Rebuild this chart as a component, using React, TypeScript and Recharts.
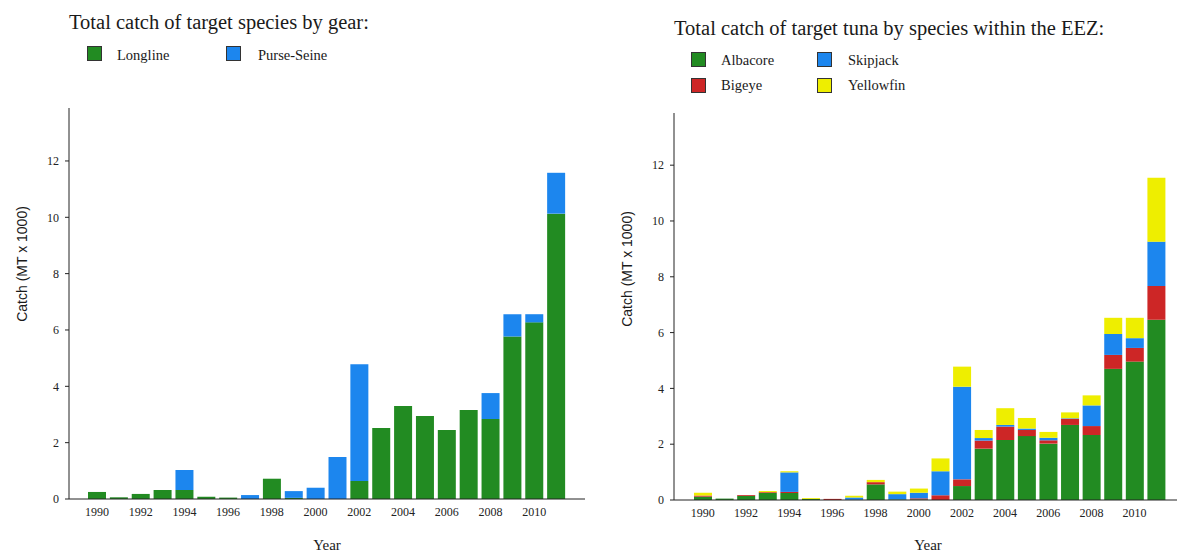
import React from "react";
import { BarChart, Bar, XAxis, YAxis } from "recharts";

const years = [1990, 1991, 1992, 1993, 1994, 1995, 1996, 1997, 1998, 1999, 2000, 2001, 2002, 2003, 2004, 2005, 2006, 2007, 2008, 2009, 2010, 2011];

// Left chart: by gear
const longline = [0.25, 0.06, 0.18, 0.32, 0.32, 0.08, 0.05, 0, 0.72, 0.04, 0, 0, 0.64, 2.52, 3.30, 2.95, 2.45, 3.16, 2.84, 5.77, 6.27, 10.13];
const purseSeine = [0, 0, 0, 0, 0.71, 0, 0, 0.14, 0, 0.24, 0.40, 1.49, 4.14, 0, 0, 0, 0, 0, 0.92, 0.79, 0.29, 1.45];

// Right chart: by species
const albacore = [0.12, 0.05, 0.15, 0.25, 0.25, 0.04, 0, 0.01, 0.56, 0.02, 0.02, 0, 0.50, 1.84, 2.15, 2.29, 2.02, 2.69, 2.33, 4.70, 4.96, 6.46];
const bigeye = [0.04, 0, 0.03, 0.03, 0.04, 0, 0.04, 0, 0.08, 0, 0.04, 0.17, 0.24, 0.29, 0.48, 0.22, 0.12, 0.22, 0.32, 0.50, 0.49, 1.21];
const skipjack = [0, 0, 0, 0, 0.70, 0, 0, 0.08, 0, 0.19, 0.20, 0.86, 3.32, 0.09, 0.06, 0.05, 0.09, 0.02, 0.74, 0.75, 0.35, 1.59];
const yellowfin = [0.10, 0, 0, 0.04, 0.04, 0.03, 0, 0.06, 0.08, 0.09, 0.15, 0.46, 0.72, 0.29, 0.60, 0.38, 0.21, 0.21, 0.36, 0.58, 0.73, 2.29];

const yTicks = [0, 2, 4, 6, 8, 10, 12];

const GREEN = "#228B22";
const BLUE = "#1C86EE";
const RED = "#CD2626";
const YELLOW = "#EEEE00";

const gearData = years.map((y, i) => ({ year: y, longline: longline[i], purse: purseSeine[i] }));
const speciesData = years.map((y, i) => ({
  year: y,
  albacore: albacore[i],
  bigeye: bigeye[i],
  skipjack: skipjack[i],
  yellowfin: yellowfin[i],
}));

const SERIF = "'Liberation Serif', 'Times New Roman', serif";
const SANS = "'Liberation Sans', Arial, sans-serif";

const tickStyle = { fontFamily: SERIF, fontSize: 12, fill: "#222" };

function Text({ x, y, size, children, family = SERIF }: any) {
  return (
    <div
      style={{
        position: "absolute",
        left: x,
        top: y - size / 2,
        fontSize: size,
        lineHeight: `${size}px`,
        fontFamily: family,
        color: "#1a1a1a",
        whiteSpace: "nowrap",
      }}
    >
      {children}
    </div>
  );
}

function Key({ x, y, color }: any) {
  return (
    <div
      style={{
        position: "absolute",
        left: x,
        top: y,
        width: 13,
        height: 13,
        background: color,
        border: "1px solid #333",
      }}
    />
  );
}

function CenterText({ cx, cy, size, children, family = SERIF, rotate = 0 }: any) {
  return (
    <div
      style={{
        position: "absolute",
        left: cx,
        top: cy,
        transform: `translate(-50%, -50%) rotate(${rotate}deg)`,
        fontSize: size,
        lineHeight: `${size}px`,
        fontFamily: family,
        color: "#1a1a1a",
        whiteSpace: "nowrap",
      }}
    >
      {children}
    </div>
  );
}

export default function App() {
  return (
    <div style={{ position: "absolute", left: 0, top: 0, width: 1177, height: 553, background: "#fff", overflow: "hidden" }}>
      {/* Left chart */}
      <div style={{ position: "absolute", left: 0, top: 0 }}>
        <BarChart width={600} height={553} data={gearData} margin={{ top: 108, right: 15, bottom: 24, left: 0 }} barSize={18}>
          <XAxis
            dataKey="year"
            type="category"
            interval={1}
            tickLine={false}
            tick={tickStyle}
            stroke="#222"
            height={30}
            padding={{ left: 17, right: 18 }}
          />
          <YAxis
            type="number"
            domain={[0, 13.88]}
            allowDataOverflow
            ticks={yTicks}
            width={69}
            tickSize={4}
            tickMargin={6}
            tick={tickStyle}
            stroke="#222"
          />
          <Bar dataKey="longline" stackId="a" fill={GREEN} isAnimationActive={false} />
          <Bar dataKey="purse" stackId="a" fill={BLUE} isAnimationActive={false} />
        </BarChart>
      </div>

      {/* Right chart */}
      <div style={{ position: "absolute", left: 600, top: 0 }}>
        <BarChart width={577} height={553} data={speciesData} margin={{ top: 113, right: 0, bottom: 23, left: 0 }} barSize={18}>
          <XAxis
            dataKey="year"
            type="category"
            interval={1}
            tickLine={false}
            tick={tickStyle}
            stroke="#222"
            height={30}
            padding={{ left: 18, right: 10 }}
          />
          <YAxis
            type="number"
            domain={[0, 13.87]}
            allowDataOverflow
            ticks={yTicks}
            width={74}
            tickSize={4}
            tickMargin={6}
            tick={tickStyle}
            stroke="#222"
          />
          <Bar dataKey="albacore" stackId="b" fill={GREEN} isAnimationActive={false} />
          <Bar dataKey="bigeye" stackId="b" fill={RED} isAnimationActive={false} />
          <Bar dataKey="skipjack" stackId="b" fill={BLUE} isAnimationActive={false} />
          <Bar dataKey="yellowfin" stackId="b" fill={YELLOW} isAnimationActive={false} />
        </BarChart>
      </div>

      {/* Left titles & legend */}
      <Text x={69} y={22} size={20.5}>Total catch of target species by gear:</Text>
      <Key x={87} y={46} color={GREEN} />
      <Text x={117} y={55} size={14.5}>Longline</Text>
      <Key x={226} y={46} color={BLUE} />
      <Text x={258} y={55} size={14.5}>Purse-Seine</Text>
      <CenterText cx={22} cy={264} size={14} family={SANS} rotate={-90}>Catch (MT x 1000)</CenterText>
      <CenterText cx={327} cy={545} size={15}>Year</CenterText>

      {/* Right titles & legend */}
      <Text x={674} y={28} size={20.5}>Total catch of target tuna by species within the EEZ:</Text>
      <Key x={691} y={52} color={GREEN} />
      <Text x={721} y={60} size={14.5}>Albacore</Text>
      <Key x={691} y={78} color={RED} />
      <Text x={721} y={85} size={14.5}>Bigeye</Text>
      <Key x={817} y={52} color={BLUE} />
      <Text x={848} y={60} size={14.5}>Skipjack</Text>
      <Key x={817} y={78} color={YELLOW} />
      <Text x={848} y={85} size={14.5}>Yellowfin</Text>
      <CenterText cx={627} cy={269} size={14} family={SANS} rotate={-90}>Catch (MT x 1000)</CenterText>
      <CenterText cx={928} cy={545} size={15}>Year</CenterText>
    </div>
  );
}
